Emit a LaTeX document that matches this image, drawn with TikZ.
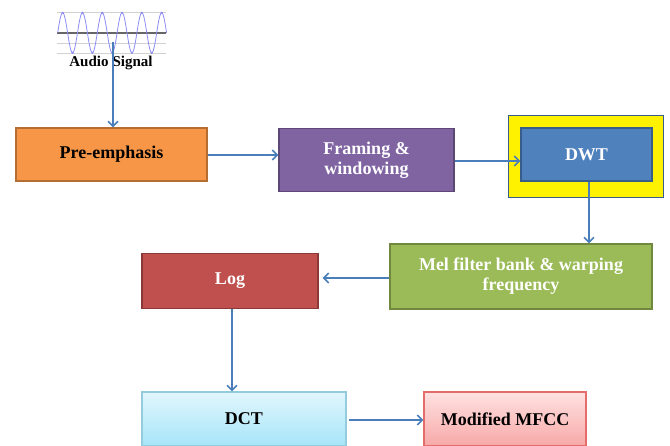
\documentclass[tikz,border=0pt]{standalone}
\usepackage{fontspec}
\setmainfont{Liberation Serif}
\usepackage{xcolor}
\usetikzlibrary{arrows.meta,positioning,calc}
\definecolor{flowLine}{HTML}{4A7EBB}
\definecolor{preFill}{HTML}{F79646}
\definecolor{preLine}{HTML}{B66D31}
\definecolor{frameFill}{HTML}{8064A2}
\definecolor{frameLine}{HTML}{5C4776}
\definecolor{dwtFill}{HTML}{4F81BD}
\definecolor{dwtLine}{HTML}{385D8A}
\definecolor{melFill}{HTML}{9BBB59}
\definecolor{melLine}{HTML}{71893F}
\definecolor{logFill}{HTML}{C0504D}
\definecolor{logLine}{HTML}{8C3836}
\definecolor{dctTop}{HTML}{E2F6FD}
\definecolor{dctBot}{HTML}{A6E5F8}
\definecolor{dctLine}{HTML}{93CDDD}
\definecolor{mfccTop}{HTML}{FFE1E1}
\definecolor{mfccBot}{HTML}{F7A9A8}
\definecolor{mfccLine}{HTML}{E46C6A}
\definecolor{waveBlue}{HTML}{8C8CF5}

\begin{document}
\begin{tikzpicture}[
        x=1pt, y=-1pt,
        box/.style={rectangle, line width=1.2pt, minimum height=53pt, align=center,
            font=\bfseries\fontsize{18}{20}\selectfont, inner sep=2pt},
        arrow/.style={-{Straight Barb[length=5pt,width=10pt,line width=1.6pt]}, draw=flowLine, line width=2.3pt}
    ]
        \useasboundingbox (0,0) rectangle (670,445);

        % audio signal sketch
        \foreach \yy in {12.7,43,53}
            \draw[black!18, line width=0.8pt] (57,\yy) -- (166,\yy);
        \draw[black!60, line width=1.4pt] (57,33) -- (166,33);
        \draw[waveBlue, line width=0.8pt, domain=57.7:166.6, samples=220, smooth]
            plot (\x, {32.8 - 20*sin(18.1818*(\x-57.7))});
        \foreach \k in {0,...,5}
            \fill[waveBlue] ({62.65+19.8*\k}, 12.8) circle (1.2pt);
        \foreach \k in {0,...,4}
            \fill[waveBlue] ({72.55+19.8*\k}, 52.8) circle (1.2pt);
        \node[font=\bfseries\fontsize{15}{17}\selectfont, inner sep=0.5pt] (audio) at (111,63) {Audio\hspace{4pt}Signal};
        \coordinate (sig) at (113,42);

        \node[box, fill=preFill, draw=preLine, minimum width=191pt] (preemph) at (111.5,154.5) {Pre-emphasis};
        \node[box, fill=frameFill, draw=frameLine, text=white, minimum width=175pt, minimum height=63pt] (framing) at (366.5,160) {Framing \&\\windowing};
        \node[rectangle, fill=yellow, draw=dwtLine, line width=1.2pt, minimum width=155pt, minimum height=82pt] (dwtframe) at (586,156.5) {};
        \node[box, fill=dwtFill, draw=dwtLine, text=white, minimum width=131pt] (dwt) at (586.5,154.5) {DWT};
        \node[box, fill=melFill, draw=melLine, text=white, minimum width=262pt, minimum height=65pt] (mel) at (521,276.5) {Mel filter bank \& warping\\frequency};
        \node[box, fill=logFill, draw=logLine, text=white, minimum width=176pt, minimum height=55pt] (log) at (230,281) {Log};
        \node[box, top color=dctTop, bottom color=dctBot, draw=dctLine, minimum width=204pt, minimum height=54pt] (dct) at (244,419) {DCT};
        \node[box, top color=mfccTop, bottom color=mfccBot, draw=mfccLine, minimum width=162pt, minimum height=54pt] (mfcc) at (505,419) {Modified MFCC};

        \draw[arrow] (sig) -- (sig |- preemph.north);
        \draw[arrow] (preemph.east |- 0,155) -- (framing.west |- 0,155);
        \draw[arrow] (framing.east |- 0,161) -- (dwt.west |- 0,161);
        \draw[arrow] (dwt.south -| 589,0) -- (mel.north -| 589,0);
        \draw[arrow] (mel.west |- 0,278) -- ($(log.east |- 0,278)+(4,0)$);
        \draw[arrow] (log.south -| 232,0) -- (dct.north -| 232,0);
        \draw[arrow] ($(dct.east |- 0,420)+(2,0)$) -- (mfcc.west |- 0,420);
    \end{tikzpicture}
\end{document}
